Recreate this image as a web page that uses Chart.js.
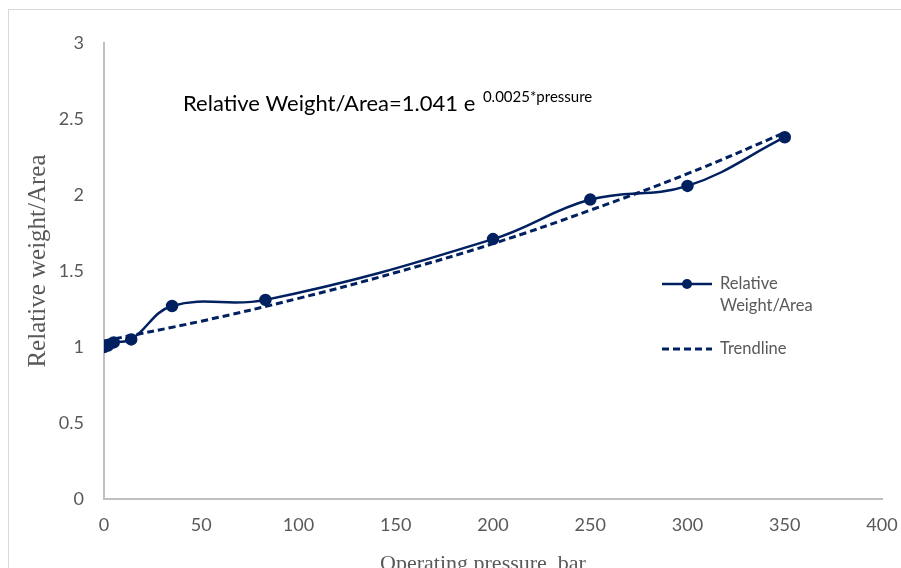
<!DOCTYPE html>
<html>
<head>
<meta charset="utf-8">
<script src="https://cdn.jsdelivr.net/npm/chart.js@4/dist/chart.umd.min.js"></script>
<style>
  html, body { margin: 0; padding: 0; background: #fff; }
  #wrap { position: relative; width: 901px; height: 568px; overflow: hidden; }
  #frame { position: absolute; left: 8px; top: 9px; width: 1200px; height: 1200px;
           border-left: 1px solid #d9d9d9; border-top: 1px solid #d9d9d9; }
  #chart { position: absolute; left: 0; top: 0; }
</style>
</head>
<body>
<div id="wrap">
  <div id="frame"></div>
  <canvas id="chart" width="901" height="568"></canvas>
</div>
<script>
// Measured points (pressure in bar, relative weight per area)
const pressure = [0, 2, 5, 14, 35, 83, 200, 250, 300, 350];
const relWeight = [1.0, 1.01, 1.03, 1.05, 1.27, 1.31, 1.71, 1.97, 2.06, 2.38];

// Exponential trendline
const trendPressure = [0, 50, 100, 150, 200, 250, 300, 350];
const trendWeight = [1.04, 1.17, 1.32, 1.49, 1.68, 1.90, 2.14, 2.41];

const xTicks = { min: 0, max: 400, step: 50 };
const yTicks = { min: 0, max: 3, step: 0.5 };

const yTitle = 'Relative weight/Area';
const xTitle = 'Operating pressure, bar';

const NAVY = '#002060';
const GREY_TEXT = '#595959';
const AXIS_GREY = '#bfbfbf';

// Axis titles, equation label and legend (Excel puts the legend inside the plot area)
const overlayPlugin = {
  id: 'overlay',
  afterDraw(chart) {
    const ctx = chart.ctx;
    ctx.save();

    // axis titles -- Excel places them a little off the plot centre
    ctx.fillStyle = GREY_TEXT;
    ctx.textAlign = 'center';
    ctx.textBaseline = 'alphabetic';
    ctx.font = '22px "Liberation Serif"';
    ctx.fillText(xTitle, 483, 570);

    ctx.save();
    ctx.translate(38, 261);
    ctx.rotate(-Math.PI / 2);
    ctx.font = '25px "Liberation Serif"';
    ctx.textBaseline = 'middle';
    ctx.fillText(yTitle, 0, 0);
    ctx.restore();

    // equation
    ctx.textAlign = 'left';
    ctx.fillStyle = '#000';
    ctx.textBaseline = 'alphabetic';
    ctx.font = '22px Lato';
    const eq = 'Relative Weight/Area=1.041 e ';
    ctx.fillText(eq, 183, 111);
    const w = ctx.measureText(eq).width;
    ctx.font = '15px Lato';
    ctx.fillText('0.0025*pressure', 183 + w + 2, 102);

    // legend
    const ds = chart.data.datasets;
    ctx.lineWidth = 2.5;
    ctx.strokeStyle = ds[0].borderColor;
    ctx.beginPath();
    ctx.moveTo(662, 284);
    ctx.lineTo(712, 284);
    ctx.stroke();
    ctx.fillStyle = ds[0].pointBackgroundColor;
    ctx.beginPath();
    ctx.arc(687, 284, 5, 0, Math.PI * 2);
    ctx.fill();

    ctx.strokeStyle = ds[1].borderColor;
    ctx.lineWidth = 3;
    ctx.setLineDash(ds[1].borderDash);
    ctx.beginPath();
    ctx.moveTo(662, 349);
    ctx.lineTo(712, 349);
    ctx.stroke();
    ctx.setLineDash([]);

    ctx.fillStyle = GREY_TEXT;
    ctx.font = '16.5px Lato';
    ctx.textBaseline = 'middle';
    ctx.fillText('Relative', 720, 284);
    ctx.fillText('Weight/Area', 720, 306);
    ctx.fillText(ds[1].label, 720, 349);

    ctx.restore();
  },
};

new Chart(document.getElementById('chart'), {
  type: 'line',
  data: {
    datasets: [
      {
        label: 'Relative Weight/Area',
        data: pressure.map((p, i) => ({ x: p, y: relWeight[i] })),
        borderColor: NAVY,
        backgroundColor: NAVY,
        pointBackgroundColor: NAVY,
        pointBorderColor: NAVY,
        borderWidth: 2.5,
        pointRadius: 5,
        tension: 0.4,
      },
      {
        label: 'Trendline',
        data: trendPressure.map((p, i) => ({ x: p, y: trendWeight[i] })),
        borderColor: NAVY,
        backgroundColor: NAVY,
        borderWidth: 3,
        borderDash: [7, 4],
        pointRadius: 0,
        tension: 0.4,
      },
    ],
  },
  options: {
    responsive: false,
    animation: false,
    events: [],
    layout: { padding: { left: 0, top: 43, right: 19, bottom: 0 } },
    plugins: { legend: { display: false }, tooltip: { enabled: false } },
    scales: {
      x: {
        type: 'linear',
        min: xTicks.min,
        max: xTicks.max,
        ticks: { stepSize: xTicks.step, color: GREY_TEXT, font: { family: 'Lato', size: 18 }, padding: 15, maxRotation: 0 },
        grid: { display: false, drawTicks: false },
        border: { display: true, color: AXIS_GREY, width: 2 },
        afterFit(scale) {
          scale.height = 69;
          scale.paddingLeft = 0;
          scale.paddingRight = 0;
        },
      },
      y: {
        min: yTicks.min,
        max: yTicks.max,
        ticks: {
          stepSize: yTicks.step,
          color: GREY_TEXT,
          font: { family: 'Lato', size: 18 },
          padding: 20,
          callback: v => String(Number(v.toFixed(1))),
        },
        grid: { display: false, drawTicks: false },
        border: { display: true, color: AXIS_GREY, width: 2 },
        afterFit(scale) { scale.width = 104; },
      },
    },
  },
  plugins: [overlayPlugin],
});
</script>
</body>
</html>
